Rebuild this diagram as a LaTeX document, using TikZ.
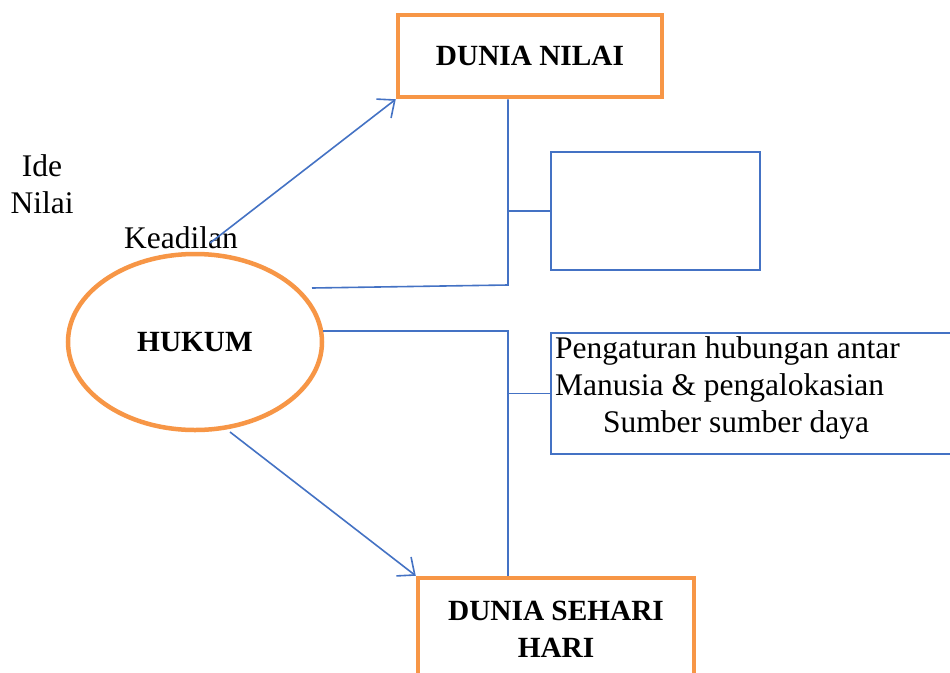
\documentclass[tikz,border=0pt]{standalone}
\usepackage{fontspec}
\setmainfont{Liberation Serif}
\usetikzlibrary{arrows.meta,shapes.geometric}
\definecolor{obox}{HTML}{F79646}
\definecolor{bline}{HTML}{4472C4}
\begin{document}
\begin{tikzpicture}[x=1pt,y=-1pt,
  bigbox/.style={draw=obox, line width=4.5pt, rectangle, inner sep=0pt,
    font=\fontsize{29.3}{37}\selectfont\bfseries, align=center},
  conn/.style={draw=bline, line width=1.6pt},
  arr/.style={conn, -{Straight Barb[length=14pt,width=24pt,line width=1.6pt]}},
  plainbox/.style={draw=bline, line width=1.7pt, inner sep=0pt, anchor=north west},
  txt/.style={font=\fontsize{31.5}{37}\selectfont, inner sep=0pt, align=center}]
\useasboundingbox (0,0) rectangle (950,672);
\fill[white] (0,0) rectangle (950,672);

\node[bigbox, minimum width=264pt, minimum height=82pt] (nilai) at (530,56) {DUNIA NILAI};
\node[bigbox, ellipse, minimum width=254pt, minimum height=176pt] (hukum) at (195,342) {\raisebox{-3pt}{HUKUM}};
\node[bigbox, minimum width=276pt, minimum height=102pt] (sehari) at (556,629) {DUNIA SEHARI\\HARI};

\node[plainbox, minimum width=209pt, minimum height=118pt] (box1) at (550,151) {};
\node[plainbox, minimum width=440pt, minimum height=121pt] (box2) at (550,332) {};
\node[txt, align=left, anchor=north west] (box2txt) at (555,336)
  {Pengaturan hubungan antar\\Manusia \& pengalokasian\\\hspace*{48pt}Sumber sumber daya};

\node[txt] (ide) at (42,184) {Ide\\Nilai};
\node[txt] (keadilan) at (181,238) {Keadilan};

\coordinate (c1) at (312,288);
\coordinate (j1) at (508,285);
\draw[conn] (c1) -- (j1) -- (j1 |- nilai.south);
\draw[conn] (j1 |- box1.west) -- (box1.west);

\coordinate (c2) at (323,331);
\coordinate (j2) at (508,331);
\draw[conn] (c2) -- (j2) -- (j2 |- sehari.north);
\draw[conn] (j2 |- box2.west) -- (box2.west);

\coordinate (a1) at (210,243);
\coordinate (a2) at (230,432);
\draw[arr] (a1) -- (nilai.south west);
\draw[arr] (a2) -- (sehari.north west);
\end{tikzpicture}
\end{document}
